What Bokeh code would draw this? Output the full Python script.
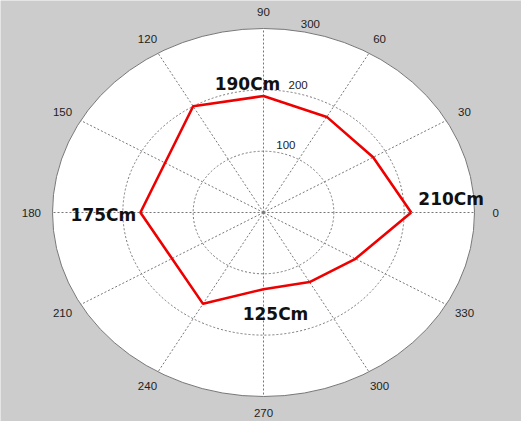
import numpy as np
from bokeh.plotting import figure
from bokeh.models import ColumnDataSource
from bokeh.core.properties import value
from bokeh.embed import file_html
from bokeh.resources import INLINE

# data
angles_deg = [0, 30, 60, 90, 120, 180, 240, 270, 300, 330]
radii = [210, 180, 180, 190, 200, 175, 172, 125, 131, 151]
ring_values = [100, 200, 300]
angle_ticks = [0, 30, 60, 90, 120, 150, 180, 210, 240, 270, 300, 330]
label_angles = [90, 0, 180, 270]
label_radii = [190, 210, 175, 125]
label_texts = ["190Cm", "210Cm", "175Cm", "125Cm"]

RMAX = 300
W, H = 521, 421
cx_px, cy_px = 263, 212          # center in figure pixels (from top-left)
sx = 211 / RMAX                  # px per unit, x
sy = 184 / RMAX                  # px per unit, y

x0 = -cx_px / sx
x1 = (W - cx_px) / sx
y0 = -(H - cy_px) / sy
y1 = cy_px / sy

p = figure(width=W, height=H, x_range=(x0, x1), y_range=(y0, y1),
           output_backend="svg", toolbar_location=None, min_border=0,
           background_fill_color="#cccccc", border_fill_color="#cccccc")
p.axis.visible = False
p.grid.visible = False
p.outline_line_color = None

# outer disk
p.ellipse(x=[0], y=[0], width=[2 * RMAX], height=[2 * RMAX],
          fill_color="white", line_color="#777777", line_width=1)

# rings
inner = [r for r in ring_values if r < RMAX]
p.ellipse(x=[0] * len(inner), y=[0] * len(inner), width=[2 * r for r in inner],
          height=[2 * r for r in inner], fill_color=None, line_color="#777777",
          line_width=1, line_dash="2 2")

# spokes
th = np.deg2rad(angle_ticks)
xs = [[0, RMAX * np.cos(t)] for t in th]
ys = [[0, RMAX * np.sin(t)] for t in th]
p.multi_line(xs=xs, ys=ys, line_color="#777777", line_width=1, line_dash="2 2")

# angle labels
p.text(x=[1.1 * RMAX * np.cos(t) for t in th], y=[1.09 * RMAX * np.sin(t) for t in th],
       text=[str(a) for a in angle_ticks], text_align="center", text_baseline="middle",
       text_font=value("Liberation Sans"), text_font_size="11.5px", text_color="#222222")

# ring labels
ra = np.deg2rad(80)
p.text(x=[(r + 5) * np.cos(ra) for r in ring_values], y=[(r + 5) * np.sin(ra) for r in ring_values],
       text=[str(r) for r in ring_values], text_align="left", text_baseline="bottom",
       text_font=value("Liberation Sans"), text_font_size="11.5px", text_color="#222222")

# data polygon
t = np.deg2rad(angles_deg + [angles_deg[0]])
r = np.array(radii + [radii[0]])
p.line(x=r * np.cos(t), y=r * np.sin(t), line_color="#ee0000", line_width=2.6)

# data labels
lt = np.deg2rad(label_angles)
lr = np.array(label_radii)
x_off = [-16, 40, -37, 12]
y_off = [-12, -14, 2, 25]
src = ColumnDataSource(dict(x=lr * np.cos(lt), y=lr * np.sin(lt), text=label_texts,
                            xo=x_off, yo=y_off))
p.text(x="x", y="y", text="text", x_offset="xo", y_offset="yo", source=src,
       text_align="center", text_baseline="middle",
       text_font=value("DejaVu Sans"), text_font_style="bold", text_font_size="17px",
       text_color="#111111")

open("out.html", "w").write(file_html(p, INLINE))
